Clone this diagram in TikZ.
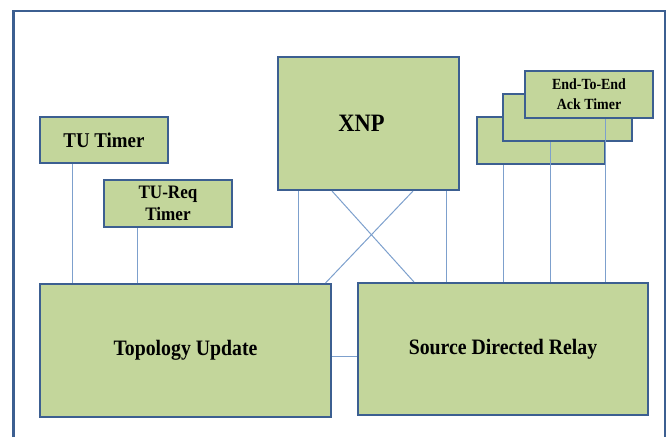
\documentclass[tikz,border=0pt]{standalone}
\usepackage{fontspec}
\setmainfont{Liberation Serif}[FakeStretch=0.9]
\definecolor{boxfill}{RGB}{195,214,155}
\definecolor{boxedge}{RGB}{60,95,145}
\definecolor{wire}{RGB}{125,160,205}
\tikzset{
  block/.style={draw=boxedge, line width=2pt, fill=boxfill, inner sep=0pt,
    align=center, font=\bfseries},
  wireline/.style={draw=wire, line width=1pt},
}
\begin{document}
\begin{tikzpicture}[x=1pt, y=-1pt]
\useasboundingbox (0,0) rectangle (669,437);
% outer frame, open at the bottom edge
\draw[boxedge, line width=2.2pt] (13.5,437) -- (13.5,11) -- (665,11) -- (665,437);

% timers on the left
\node[block, minimum width=128pt, minimum height=46pt,
  font=\bfseries\fontsize{21}{22}\selectfont] (tut) at (104,140) {TU Timer};
\node[block, minimum width=128pt, minimum height=47pt,
  font=\bfseries\fontsize{19}{22}\selectfont] (treq) at (168,203.5) {TU-Req\\Timer};

% XNP
\node[block, minimum width=181pt, minimum height=133pt,
  font=\bfseries\fontsize{25}{26}\selectfont] (xnp) at (368.5,123.5)
  {\raisebox{-3.5pt}{XNP}\hspace*{14pt}};

% main blocks
\node[block, minimum width=291pt, minimum height=133pt,
  font=\bfseries\fontsize{22}{24}\selectfont] (tu) at (185.5,350.5) {Topology Update};
\node[block, minimum width=290pt, minimum height=132pt,
  font=\bfseries\fontsize{22}{24}\selectfont] (sdr) at (503,349) {Source Directed Relay};

% stacked end-to-end timers
\node[block, minimum width=128pt, minimum height=47pt] (ea) at (541,140.5) {};
\node[block, minimum width=129pt, minimum height=47pt] (eb) at (567.5,117.5) {};
\draw[wireline] ([xshift=-17.5pt]eb.south) -- ([xshift=-17.5pt]eb.south |- sdr.north);
\node[block, minimum width=128pt, minimum height=47pt,
  font=\bfseries\fontsize{15.5}{20}\selectfont] (ec) at (589,94.5) {End-To-End\\Ack Timer};
\draw[wireline] ([xshift=16pt]ec.south) -- ([xshift=16pt]ec.south |- sdr.north);
\draw[wireline] ([xshift=-38pt]ea.south) -- ([xshift=-38pt]ea.south |- sdr.north);

% timer links
\draw[wireline] ([xshift=-32pt]tut.south) -- ([xshift=-32pt]tut.south |- tu.north);
\draw[wireline] ([xshift=-31pt]treq.south) -- ([xshift=-31pt]treq.south |- tu.north);

% XNP links
\draw[wireline] ([xshift=-70.5pt]xnp.south) -- ([xshift=-70.5pt]xnp.south |- tu.north);
\draw[wireline] ([xshift=77.5pt]xnp.south) -- ([xshift=77.5pt]xnp.south |- sdr.north);
\draw[wireline] ([xshift=-36.5pt]xnp.south) -- ([xshift=-89pt]sdr.north);
\draw[wireline] ([xshift=44.5pt]xnp.south) -- ([xshift=140pt]tu.north);

% link between the main blocks
\draw[wireline] ([yshift=-5.5pt]tu.east) -- ([yshift=-5.5pt]tu.east -| sdr.west);
\end{tikzpicture}
\end{document}
